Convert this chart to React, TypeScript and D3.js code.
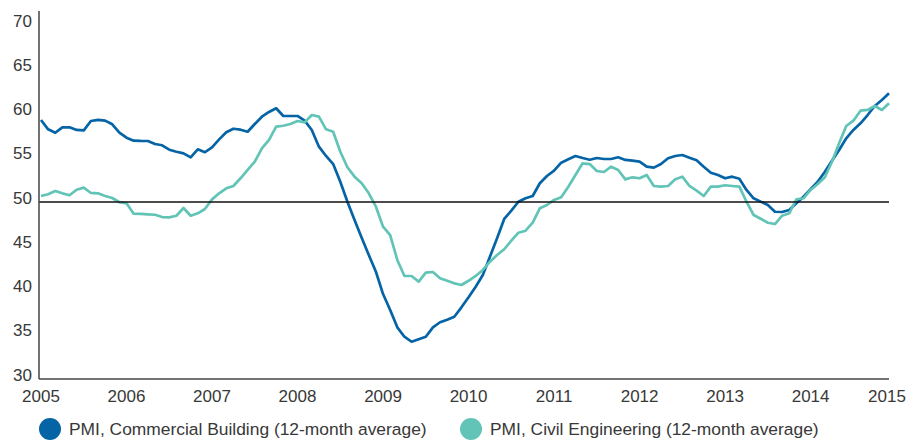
import React from 'react';
import * as d3 from 'd3';

// Tick labels
const yearLabels = ['2005', '2006', '2007', '2008', '2009', '2010', '2011', '2012', '2013', '2014', '2015'];
const yTicks = [30, 35, 40, 45, 50, 55, 60, 65, 70];
const referenceLevel = 50;

// Monthly values, Jan 2005 – Dec 2014
const commercialBuilding = [
  59.27, 58.21, 57.83, 58.44, 58.44, 58.14, 58.1, 59.15, 59.27, 59.19, 58.78, 57.83,
  57.27, 56.93, 56.9, 56.89, 56.55, 56.41, 55.91, 55.68, 55.5, 55.05, 55.95, 55.62,
  56.18, 57.08, 57.88, 58.28, 58.17, 57.94, 58.81, 59.64, 60.17, 60.59, 59.72, 59.72,
  59.72, 59.19, 58.14, 56.25, 55.2, 54.29, 52.29, 50.03, 47.97, 45.97, 44.02, 42.12,
  39.6, 37.8, 35.84, 34.78, 34.21, 34.49, 34.78, 35.84, 36.41, 36.7, 37.04, 38.1,
  39.23, 40.43, 41.75, 43.82, 45.9, 48.08, 49.02, 50.03, 50.42, 50.68, 52.12, 52.94,
  53.54, 54.44, 54.82, 55.2, 54.97, 54.78, 54.97, 54.86, 54.86, 55.05, 54.75, 54.67,
  54.56, 53.99, 53.88, 54.29, 54.94, 55.2, 55.31, 55.0, 54.71, 53.99, 53.31, 53.05,
  52.68, 52.86, 52.63, 51.36, 50.42, 50.04, 49.66, 48.9, 48.87, 49.1, 49.85, 50.6,
  51.44, 52.29, 53.42, 54.67, 55.88, 57.2, 58.14, 58.89, 59.83, 60.85, 61.53, 62.28,
];

const civilEngineering = [
  50.68, 50.87, 51.24, 50.98, 50.76, 51.39, 51.62, 51.02, 50.98, 50.68, 50.45, 49.97,
  49.85, 48.68, 48.65, 48.61, 48.56, 48.3, 48.27, 48.45, 49.32, 48.45, 48.72, 49.21,
  50.3, 50.98, 51.55, 51.81, 52.68, 53.62, 54.55, 56.06, 57.01, 58.51, 58.62, 58.81,
  59.15, 59.0, 59.83, 59.64, 58.21, 57.94, 55.68, 53.92, 52.86, 52.11, 50.98, 49.47,
  47.21, 46.27, 43.45, 41.64, 41.64, 41.0, 42.01, 42.09, 41.38, 41.1, 40.81, 40.62,
  41.1, 41.64, 42.32, 43.25, 44.01, 44.66, 45.63, 46.53, 46.76, 47.66, 49.29, 49.66,
  50.23, 50.53, 51.73, 53.05, 54.37, 54.29, 53.5, 53.39, 53.99, 53.62, 52.56, 52.79,
  52.68, 53.05, 51.81, 51.73, 51.81, 52.56, 52.86, 51.81, 51.28, 50.68, 51.73, 51.73,
  51.89, 51.81, 51.73, 50.03, 48.53, 48.1, 47.66, 47.51, 48.45, 48.72, 50.31, 50.42,
  51.36, 52.03, 52.79, 54.55, 56.63, 58.59, 59.19, 60.32, 60.4, 60.85, 60.4, 61.15,
];

const seriesNames = [
  'PMI, Commercial Building (12-month average)',
  'PMI, Civil Engineering (12-month average)',
];
const seriesColors = ['#0564a6', '#62c4b6'];

const W = 922;
const H = 441;
const FONT = "'Liberation Sans', Arial, sans-serif";
const TEXT = '#383838';

export default function App() {
  const plotLeft = 39;
  const x = d3.scaleLinear().domain([0, commercialBuilding.length - 1]).range([41, 889]);
  const y = d3.scaleLinear().domain([30, 70]).range([379, 25]);
  const line = d3
    .line<number>()
    .x((_, i) => x(i))
    .y((d) => y(d));

  const series = [commercialBuilding, civilEngineering];
  const plotRight = x(commercialBuilding.length - 1);

  return (
    <svg
      width={W}
      height={H}
      style={{ position: 'absolute', left: 0, top: 0, display: 'block', background: '#fff' }}
      fontFamily={FONT}
    >
      {/* y tick labels */}
      {yTicks.map((t) => (
        <text key={t} x={32} y={y(t) + 1.5} textAnchor="end" fontSize={17} fill={TEXT}>
          {t}
        </text>
      ))}
      {/* x labels */}
      {yearLabels.map((lab, k) => {
        const px = Math.min(x(k * 12), plotRight - 2);
        return (
          <text key={lab} x={px} y={402} textAnchor="middle" fontSize={17} fill={TEXT}>
            {lab}
          </text>
        );
      })}
      {/* series */}
      {series.map((s, si) => (
        <path
          key={si}
          d={line(s) || ''}
          fill="none"
          stroke={seriesColors[si]}
          strokeWidth={2.7}
          strokeLinejoin="round"
        />
      ))}
      {/* reference line at 50 */}
      <line x1={plotLeft} x2={plotRight} y1={y(referenceLevel)} y2={y(referenceLevel)} stroke="#111" strokeWidth={1.5} />
      {/* axes */}
      <line x1={plotLeft} x2={plotLeft} y1={y(70) - 14} y2={y(30)} stroke="#444" strokeWidth={1.5} />
      <line x1={plotLeft} x2={plotRight} y1={y(30)} y2={y(30)} stroke="#444" strokeWidth={1.5} />
      {/* legend */}
      {seriesNames.map((name, i) => {
        const lx = i === 0 ? 50 : 471;
        return (
          <g key={name}>
            <circle cx={lx} cy={429} r={11} fill={seriesColors[i]} />
            <text x={lx + 19} y={435} fontSize={17.4} fill={TEXT}>
              {name}
            </text>
          </g>
        );
      })}
    </svg>
  );
}
